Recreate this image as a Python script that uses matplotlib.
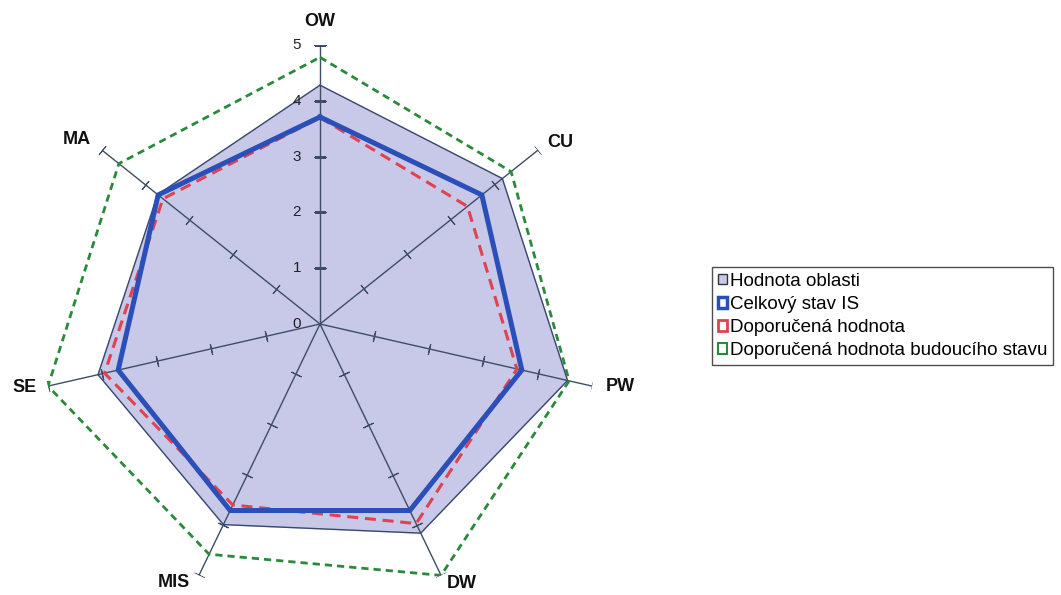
import numpy as np
import matplotlib
matplotlib.use("Agg")
import matplotlib.pyplot as plt
from matplotlib.patches import Rectangle

plt.rcParams['font.family'] = ['Liberation Sans', 'DejaVu Sans']

# oblasti hodnoceni (po smeru hodinovych rucicek od vrcholu)
oblasti = ['OW', 'CU', 'PW', 'DW', 'MIS', 'SE', 'MA']
hodnota_oblasti = [4.28, 4.18, 4.55, 4.16, 3.99, 4.08, 3.72]
celkovy_stav = [3.71, 3.71, 3.71, 3.71, 3.71, 3.71, 3.71]
doporucena = [3.70, 3.38, 3.62, 3.97, 3.60, 3.96, 3.60]
budouci_stav = [4.78, 4.38, 4.58, 5.0, 4.58, 5.0, 4.61]
stupnice = [0, 1, 2, 3, 4, 5]

# posun popisku oblasti od konce osy (px)
posun = [(0, 24), (22, 8), (28, 0), (21, -8), (-25, -7), (-23, -1), (-25, 11)]

n = len(oblasti)
uhly = np.arange(n) * 2 * np.pi / n


def uzavrit(v):
    v = list(v)
    return np.array(v + v[:1])


th = uzavrit(uhly)

fig = plt.figure(figsize=(10.61, 5.95), dpi=100)
W, H = 1061, 595
cx, cy, R = 320, 324, 279
ax = fig.add_axes([(cx - R) / W, (H - cy - R) / H, 2 * R / W, 2 * R / H],
                  projection='polar')
ax.set_theta_offset(np.pi / 2)
ax.set_theta_direction(-1)
ax.set_ylim(0, 5)
ax.grid(False)
ax.spines['polar'].set_visible(False)
ax.set_xticks([])
ax.set_yticks([])
ax.patch.set_alpha(0)

fill_c = '#c8c8e8'
blue_c = '#2a4fb8'
red_c = '#e0424f'
green_c = '#2a8a3c'
axis_c = '#3d4e63'

# plocha hodnot oblasti
ax.fill(th, uzavrit(hodnota_oblasti), color=fill_c, zorder=1)
ax.plot(th, uzavrit(hodnota_oblasti), color='#39496e', lw=1.0, zorder=2)

# osy s carkami
for i, a in enumerate(uhly):
    ax.plot([a, a], [0, 5], color=axis_c, lw=1.0, zorder=3)
    smer = np.degrees(np.pi / 2 - a)
    ax.plot([a] * 5, stupnice[1:], ls='none', marker=(2, 2, smer),
            ms=8, mew=0.8, color=axis_c, zorder=3)

ax.plot(th, uzavrit(budouci_stav), color=green_c, lw=2.0,
        dashes=(2.6, 1.8), zorder=4)
ax.plot(th, uzavrit(doporucena), color=red_c, lw=2.2,
        dashes=(3.6, 2.2), zorder=5)
ax.plot(th, uzavrit(celkovy_stav), color=blue_c, lw=3.6, zorder=6,
        solid_joinstyle='miter')

# popisky stupnice na svisle ose
for s in stupnice:
    ax.annotate(str(s), xy=(0, s), xytext=(-19, 0), textcoords='offset pixels',
                ha='right', va='center', fontsize=11, color='#222222',
                zorder=7)

# popisky oblasti
for a, lab, (dx, dy) in zip(uhly, oblasti, posun):
    ax.annotate(lab, xy=(a, 5), xytext=(dx, dy), textcoords='offset pixels',
                ha='center', va='center', fontsize=13, fontweight='bold',
                color='#111111', annotation_clip=False)

handles = [
    Rectangle((0, 0), 1, 1, facecolor=fill_c, edgecolor='#333333', lw=1.0),
    Rectangle((0, 0), 1, 1, facecolor='white', edgecolor=blue_c, lw=2.5),
    Rectangle((0, 0), 1, 1, facecolor='white', edgecolor=red_c, lw=2.0),
    Rectangle((0, 0), 1, 1, facecolor='white', edgecolor=green_c, lw=1.5),
]
labels = ['Hodnota oblasti', 'Celkový stav IS', 'Doporučená hodnota',
          'Doporučená hodnota budoucího stavu']
leg = fig.legend(handles, labels, loc='center left',
                 bbox_to_anchor=(712 / W, 1 - 316 / H), fontsize=13.5,
                 frameon=True, fancybox=False, handlelength=0.5,
                 handleheight=0.5, handletextpad=0.15, labelspacing=0.33,
                 borderpad=0.3, borderaxespad=0)
leg.get_frame().set_edgecolor('#222222')
leg.get_frame().set_linewidth(1.0)

fig.savefig('out.png', dpi=100, facecolor='white')
